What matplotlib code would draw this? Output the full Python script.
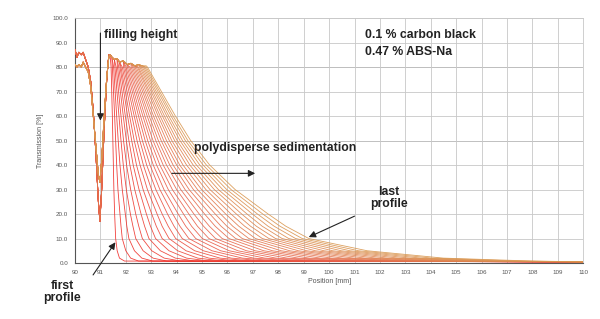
import matplotlib
matplotlib.use('Agg')
import matplotlib.pyplot as plt
import numpy as np
from matplotlib.colors import LinearSegmentedColormap

plt.rcParams['font.family'] = ['Liberation Sans', 'DejaVu Sans']

levels = [80, 60, 50, 40, 30, 20, 15, 10, 5, 2, 0.8]
tail_T = 0.5  # value at 110 mm

# front positions [mm] per profile (first -> last) at each level
front80 = [91.42, 91.47, 91.52, 91.57, 91.62, 91.67, 91.72, 91.77, 91.81, 91.86,
           91.91, 91.96, 92.01, 92.06, 92.11, 92.16, 92.21, 92.26, 92.31, 92.36,
           92.41, 92.46, 92.50, 92.55, 92.60, 92.65, 92.70, 92.75, 92.80, 92.85]
front60 = [91.47, 91.56, 91.64, 91.73, 91.81, 91.90, 91.98, 92.07, 92.15, 92.24,
           92.33, 92.41, 92.50, 92.58, 92.67, 92.75, 92.84, 92.92, 93.01, 93.09,
           93.18, 93.27, 93.35, 93.44, 93.52, 93.61, 93.69, 93.78, 93.86, 93.95]
front50 = [91.49, 91.60, 91.70, 91.81, 91.91, 92.02, 92.12, 92.23, 92.33, 92.44,
           92.55, 92.65, 92.76, 92.86, 92.97, 93.07, 93.18, 93.28, 93.39, 93.49,
           93.60, 93.71, 93.81, 93.92, 94.02, 94.13, 94.23, 94.34, 94.44, 94.55]
front40 = [91.51, 91.64, 91.77, 91.90, 92.03, 92.16, 92.29, 92.42, 92.56, 92.69,
           92.82, 92.95, 93.08, 93.21, 93.34, 93.47, 93.60, 93.73, 93.86, 94.00,
           94.12, 94.25, 94.39, 94.52, 94.65, 94.78, 94.91, 95.04, 95.17, 95.30]
front30 = [91.53, 91.69, 91.86, 92.02, 92.19, 92.35, 92.52, 92.68, 92.85, 93.01,
           93.18, 93.34, 93.50, 93.67, 93.83, 94.00, 94.16, 94.33, 94.49, 94.66,
           94.82, 94.98, 95.15, 95.31, 95.48, 95.64, 95.81, 95.97, 96.14, 96.30]
front20 = [91.56, 91.77, 91.98, 92.18, 92.39, 92.60, 92.81, 93.02, 93.23, 93.43,
           93.64, 93.85, 94.06, 94.27, 94.48, 94.68, 94.89, 95.10, 95.31, 95.52,
           95.73, 95.93, 96.14, 96.35, 96.56, 96.77, 96.98, 97.18, 97.39, 97.60]
front15 = [91.58, 91.81, 92.04, 92.28, 92.51, 92.74, 92.97, 93.20, 93.43, 93.67,
           93.90, 94.13, 94.36, 94.59, 94.82, 95.06, 95.29, 95.52, 95.75, 95.98,
           96.21, 96.45, 96.68, 96.91, 97.14, 97.37, 97.60, 97.84, 98.07, 98.30]
front10 = [91.60, 91.86, 92.12, 92.39, 92.65, 92.91, 93.17, 93.43, 93.70, 93.96,
           94.22, 94.48, 94.75, 95.01, 95.27, 95.53, 95.79, 96.06, 96.32, 96.58,
           96.84, 97.10, 97.37, 97.63, 97.89, 98.15, 98.41, 98.68, 98.94, 99.20]
front5 = [91.66, 92.00, 92.34, 92.68, 93.02, 93.36, 93.70, 94.04, 94.37, 94.71,
          95.05, 95.39, 95.73, 96.07, 96.41, 96.75, 97.09, 97.43, 97.77, 98.11,
          98.45, 98.79, 99.12, 99.46, 99.80, 100.14, 100.48, 100.82, 101.16, 101.50]
front2 = [91.75, 92.19, 92.63, 93.07, 93.51, 93.95, 94.39, 94.83, 95.27, 95.71,
          96.15, 96.59, 97.03, 97.47, 97.91, 98.35, 98.79, 99.22, 99.66, 100.10,
          100.54, 100.98, 101.42, 101.86, 102.30, 102.74, 103.18, 103.62, 104.06, 104.50]
front08 = [91.95, 92.50, 93.06, 93.61, 94.16, 94.72, 95.27, 95.82, 96.38, 96.93,
           97.48, 98.04, 98.59, 99.14, 99.70, 100.25, 100.80, 101.36, 101.91, 102.46,
           103.02, 103.57, 104.12, 104.68, 105.23, 105.78, 106.34, 106.89, 107.44, 108.00]

# shared meniscus region (left of the filling height)
left_x = [90.0, 90.08, 90.15, 90.25, 90.32, 90.42, 90.52, 90.62, 90.72, 90.82,
          90.92, 90.98, 91.05, 91.15, 91.25, 91.33]
left_T_red = [87, 84, 86, 85, 86, 83, 80, 74, 62, 45, 25, 17, 30, 55, 75, 85]
left_T_orange = [81, 80, 81, 80, 82, 80, 78, 72, 60, 48, 36, 33, 42, 60, 76, 84]

# noisy plateau near 80 %
plateau_x = [91.38, 91.45, 91.55, 91.65, 91.75, 91.9, 92.05, 92.2, 92.35, 92.5, 92.65, 92.8]
plateau_T = [85, 84, 83, 83.5, 82, 82.5, 81, 81.5, 80.5, 81, 80.5, 80.5]

fig = plt.figure(figsize=(6, 3.19), dpi=100)
ax = fig.add_axes([0.125, 0.1755, 0.847, 0.768])

cmap = LinearSegmentedColormap.from_list('prof', ['#f02a26', '#e8604a', '#d9974f'])
fronts = np.array([front80, front60, front50, front40, front30, front20,
                   front15, front10, front5, front2, front08])
n = fronts.shape[1]
for k in range(n):
    left_T = left_T_red if k % 3 != 2 and k < 20 else left_T_orange
    xs = list(left_x)
    ys = list(left_T)
    for px, pt in zip(plateau_x, plateau_T):
        if px < fronts[0, k]:
            xs.append(px)
            ys.append(pt)
    xs += list(fronts[:, k]) + [110]
    ys += levels + [tail_T]
    ax.plot(xs, ys, color=cmap(k / (n - 1)), lw=0.6, alpha=0.9, zorder=3)

ax.set_xlim(90, 110)
ax.set_ylim(0, 100)
ax.set_xticks(range(90, 111))
ax.set_yticks(range(0, 101, 10))
ax.set_yticklabels(['%.1f' % v for v in range(0, 101, 10)])
ax.tick_params(labelsize=4.5, colors='#555555', length=0, pad=5)
ax.grid(True, color='#c8c8c8', lw=0.6)
ax.axhline(80, color='#909090', lw=0.7, zorder=1)
ax.axhline(50, color='#a0a0a0', lw=0.7, zorder=1)
for s in ['left', 'bottom']:
    ax.spines[s].set_color('#555555')
    ax.spines[s].set_linewidth(0.8)
for s in ['top', 'right']:
    ax.spines[s].set_color('#c8c8c8')
    ax.spines[s].set_linewidth(0.6)
ax.set_xlabel('Position [mm]', fontsize=5, color='#555555', labelpad=2)
ax.set_ylabel('Transmission [%]', fontsize=5, color='#555555', labelpad=6)

# annotations
bold = dict(fontsize=8.8, fontweight='bold', color='#222222')
arrow = dict(arrowstyle='-|>', color='#222222', lw=0.8, mutation_scale=10)
ax.annotate('', xy=(91.0, 57), xytext=(91.0, 95), arrowprops=arrow, zorder=5)
ax.text(91.15, 93, 'filling height', va='center', ha='left', **bold)
ax.text(101.4, 93, '0.1 % carbon black', va='center', ha='left', **bold)
ax.text(101.4, 86, '0.47 % ABS-Na', va='center', ha='left', **bold)
ax.text(94.7, 47, 'polydisperse sedimentation', va='center', ha='left', **bold)
ax.annotate('', xy=(97.2, 36.6), xytext=(93.7, 36.6), arrowprops=arrow, zorder=5)
ax.text(102.35, 26.5, 'last\nprofile', va='center', ha='center', linespacing=1.0, **bold)
ax.annotate('', xy=(99.1, 10.1), xytext=(101.1, 19.6), arrowprops=arrow, zorder=5)
ax.text(89.5, -12, 'first\nprofile', va='center', ha='center', linespacing=1.0,
        clip_on=False, **bold)
ax.annotate('', xy=(91.65, 9.4), xytext=(90.65, -5.8), arrowprops=arrow,
            annotation_clip=False, zorder=5)

fig.savefig('out.png', dpi=100, facecolor='white')
